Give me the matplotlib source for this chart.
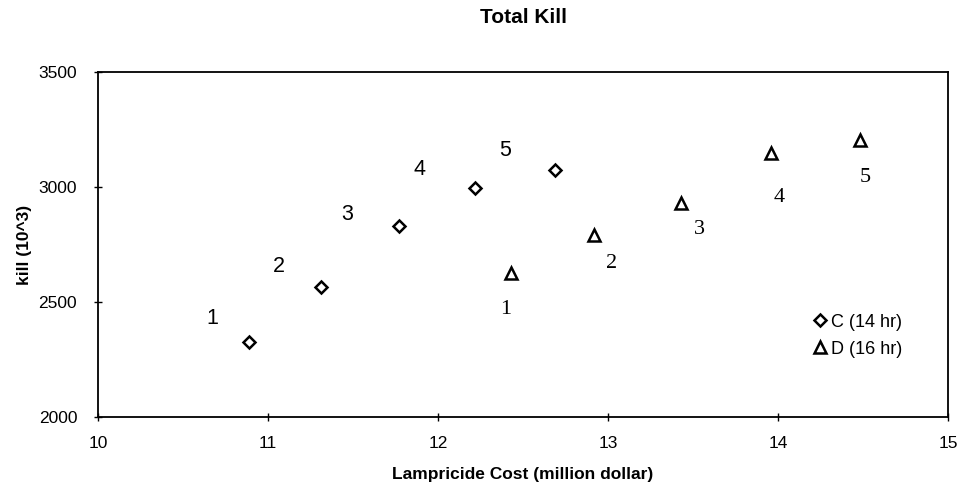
import matplotlib
matplotlib.use("Agg")
import matplotlib.pyplot as plt

# Data
c_cost = [10.89, 11.31, 11.77, 12.22, 12.69]
c_kill = [2327, 2564, 2832, 2998, 3075]
d_cost = [12.43, 12.92, 13.43, 13.96, 14.48]
d_kill = [2625, 2790, 2932, 3146, 3204]
point_labels = ["1", "2", "3", "4", "5"]
series_names = ["C (14 hr)", "D (16 hr)"]
x_ticks = [10, 11, 12, 13, 14, 15]
y_ticks = [2000, 2500, 3000, 3500]

# label offsets (points) - layout only
c_off = [(-27, 17), (-30, 15), (-37, 8), (-40, 13), (-36, 14)]
d_off = [(-4, -26), (12, -20), (13, -19), (6, -32), (4, -27)]

fig = plt.figure(figsize=(9.65, 4.87), dpi=100)
ax = fig.add_axes([0.1016, 0.1437, 0.8808, 0.7083])

ax.plot(c_cost, c_kill, linestyle="none", marker="D", ms=6, mfc="white",
        mec="black", mew=1.8, label=series_names[0])
ax.plot(d_cost, d_kill, linestyle="none", marker="^", ms=9, mfc="white",
        mec="black", mew=1.8, label=series_names[1])

for x, y, t, o in zip(c_cost, c_kill, point_labels, c_off):
    ax.annotate(t, (x, y), xytext=o, textcoords="offset points",
                ha="center", va="center", fontsize=15.5, family="Liberation Sans")
for x, y, t, o in zip(d_cost, d_kill, point_labels, d_off):
    ax.annotate(t, (x, y), xytext=o, textcoords="offset points",
                ha="center", va="center", fontsize=16, family="Liberation Serif")

ax.set_xlim(10, 15)
ax.set_ylim(2000, 3500)
ax.set_xticks(x_ticks)
ax.set_yticks(y_ticks)
ax.tick_params(axis="x", direction="inout", length=6, width=1, labelsize=12.5, pad=11)
ax.tick_params(axis="y", direction="inout", length=6, width=1, labelsize=12.5, pad=12)
for lab in ax.get_xticklabels() + ax.get_yticklabels():
    lab.set_family("Liberation Sans")
for s in ax.spines.values():
    s.set_linewidth(1.3)
    s.set_color("black")

ax.set_xlabel("Lampricide Cost (million dollar)", fontsize=12.5, fontweight="bold",
              family="Liberation Sans", labelpad=11)
ax.set_ylabel("kill (10^3)", fontsize=12.5, fontweight="bold",
              family="Liberation Sans", labelpad=5)
ax.set_title("Total Kill", fontsize=15, fontweight="bold",
             family="Liberation Sans", pad=35)

leg = ax.legend(loc="lower right", bbox_to_anchor=(0.965, 0.125), frameon=False,
                handletextpad=0.1, handlelength=1.0, labelspacing=0.55,
                prop={"family": "Liberation Sans", "size": 13})

fig.savefig("out.png", dpi=100, facecolor="white")
